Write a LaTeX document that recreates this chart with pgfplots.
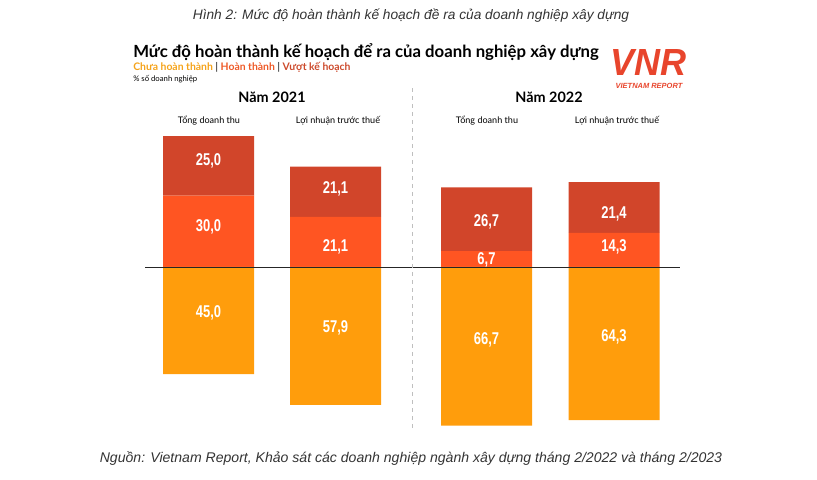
\documentclass[border=0pt]{standalone}
\usepackage{fontspec}
\setmainfont{Liberation Sans}
\newfontfamily\latofont{Lato}
\usepackage{graphicx}
\usepackage{pgfplots}
\pgfplotsset{compat=1.18}
\definecolor{darkc}{HTML}{D1452A}
\definecolor{midc}{HTML}{FF5522}
\definecolor{orc}{HTML}{FF9D0C}
\definecolor{legor}{HTML}{F5A31A}
\definecolor{legmid}{HTML}{EE5A28}
\definecolor{legdark}{HTML}{CC4A2C}
\definecolor{capgray}{HTML}{333333}
\definecolor{logoc}{HTML}{E8452C}
\pgfplotsset{base/.style={
  at={(0,0)}, anchor=south west, scale only axis,
  width=612.75pt, height=359.25pt,
  xmin=0, xmax=817, ymin=-89.08, ymax=112.18,
  axis lines=none, ticks=none, enlargelimits=false, clip=false}}
\begin{document}
\begin{tikzpicture}
\path[use as bounding box] (0,0) rectangle (612.75pt,359.25pt);
% positive stacked bars
\begin{axis}[base, ybar stacked, bar width=91, bar shift=0pt]
\addplot[fill=midc, draw=none] coordinates {(208.5,30.0) (335.5,21.1) (486.5,6.7) (614,14.3)};
\addplot[fill=darkc, draw=none] coordinates {(208.5,25.0) (335.5,21.1) (486.5,26.7) (614,21.4)};
\end{axis}
% negative bars, zero line, labels
\begin{axis}[base]
\addplot[ybar, bar width=91, bar shift=0pt, fill=orc, draw=none] coordinates {(208.5,-45.0) (335.5,-57.9) (486.5,-66.7) (614,-64.3)};
\addplot[black!85, line width=0.7pt] coordinates {(145,0) (680,0)};
\addplot[black!25, dashed, line width=0.6pt] coordinates {(412,75.2) (412,-69.3)};
\addplot[draw=none, mark=none, nodes near coords={\scalebox{0.76}[1]{\pgfplotspointmeta}},
  point meta=explicit symbolic,
  nodes near coords style={anchor=center, text=white, font=\fontsize{12.8}{14}\selectfont\bfseries}]
  coordinates {
  (208.5,44.5) [25{,}0] (208.5,16.8) [30{,}0] (208.5,-19.3) [45{,}0]
  (335.5,32.8) [21{,}1] (335.5,8.4) [21{,}1] (335.5,-25.6) [57{,}9]
  (486.5,18.9) [26{,}7] (486.5,2.9) [6{,}7] (486.5,-30.7) [66{,}7]
  (614,22.3) [21{,}4] (614,8.4) [14{,}3] (614,-29.4) [64{,}3]
  };
\end{axis}
\begin{scope}[shift={(0,359.25pt)}, x=0.75pt, y=-0.75pt]
\node[font=\fontsize{10.3}{12}\selectfont\itshape, text=capgray] at (411,16) {Hình 2: Mức độ hoàn thành kế hoạch đề ra của doanh nghiệp xây dựng};
\node[font=\latofont\fontsize{12.55}{14}\selectfont\bfseries, anchor=base west, inner sep=0pt] at (133,58) {Mức độ hoàn thành kế hoạch để ra của doanh nghiệp xây dựng};
\node[font=\latofont\fontsize{7.8}{9}\selectfont\bfseries, anchor=base west, inner sep=0pt] at (133,71) {\textcolor{legor}{Chưa hoàn thành} \textcolor{black!70}{|} \textcolor{legmid}{Hoàn thành} \textcolor{black!70}{|} \textcolor{legdark}{Vượt kế hoạch}};
\node[font=\latofont\fontsize{5.8}{7}\selectfont, anchor=base west, inner sep=0pt] at (133,82) {\% số doanh nghiệp};
\node[font=\latofont\fontsize{10.8}{12}\selectfont\bfseries] at (272,97) {Năm 2021};
\node[font=\latofont\fontsize{10.8}{12}\selectfont\bfseries] at (549,97) {Năm 2022};
\node[font=\latofont\fontsize{6.8}{8}\selectfont] at (209,121) {Tổng doanh thu};
\node[font=\latofont\fontsize{6.8}{8}\selectfont] at (338,121) {Lợi nhuận trước thuế};
\node[font=\latofont\fontsize{6.8}{8}\selectfont] at (487,121) {Tổng doanh thu};
\node[font=\latofont\fontsize{6.8}{8}\selectfont] at (617,121) {Lợi nhuận trước thuế};
% logo
\node[font=\fontsize{27}{28}\selectfont\bfseries\itshape, text=logoc, inner sep=0pt] at (648,62) {\scalebox{1.0}[1.05]{VNR}};
\node[font=\fontsize{5.6}{6}\selectfont\bfseries\itshape, text=logoc, inner sep=0pt] at (649,86) {VIETNAM REPORT};
\node[font=\fontsize{10.55}{12}\selectfont\itshape, text=capgray] at (411,459) {Nguồn: Vietnam Report, Khảo sát các doanh nghiệp ngành xây dựng tháng 2/2022 và tháng 2/2023};
\end{scope}
\end{tikzpicture}
\end{document}
